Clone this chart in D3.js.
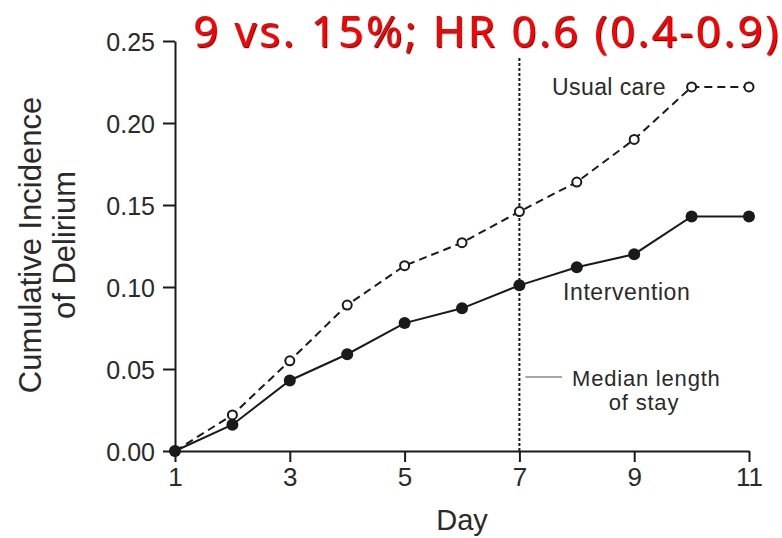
<!DOCTYPE html>
<html>
<head>
<meta charset="utf-8">
<script src="https://cdn.jsdelivr.net/npm/d3@7"></script>
<style>
  html, body { margin: 0; padding: 0; background: #fff; }
  svg { display: block; }
</style>
</head>
<body>
<svg id="chart" width="782" height="538"></svg>
<script>
// ---- Data ----
const days = [1, 2, 3, 4, 5, 6, 7, 8, 9, 10, 11];
const usualCare = [0, 0.022, 0.055, 0.089, 0.113, 0.127, 0.146, 0.164, 0.190, 0.222, 0.222];
const intervention = [0, 0.016, 0.043, 0.059, 0.078, 0.087, 0.101, 0.112, 0.120, 0.143, 0.143];
const xTicks = [1, 3, 5, 7, 9, 11];
const yTicks = [0, 0.05, 0.10, 0.15, 0.20, 0.25];
const medianStayDay = 7;
const medianLineTop = 0.24;
const titleText = "9 vs. 15%; HR 0.6 (0.4-0.9)";
const yTitleLines = ["Cumulative Incidence", "of Delirium"];
const xTitle = "Day";
const seriesLabels = ["Usual care", "Intervention"];
const medianLabelLines = ["Median length", "of stay"];

// ---- Layout ----
const svg = d3.select("#chart");
const font = "'Liberation Sans', Arial, Helvetica, sans-serif";
const ink = "#1a1a1a";
const textInk = "#2a2a2a";
const x = d3.scaleLinear().domain([1, 11]).range([175, 749]);
const y = d3.scaleLinear().domain([0, 0.25]).range([451, 41]);

const defs = svg.append("defs");
const f = defs.append("filter").attr("id", "shadow")
  .attr("x", "-5%").attr("y", "-20%").attr("width", "110%").attr("height", "140%");
f.append("feDropShadow").attr("dx", 1.2).attr("dy", 1.2).attr("stdDeviation", 0.3)
  .attr("flood-color", "#000").attr("flood-opacity", 0.85);

// Median length of stay vertical dotted line
svg.append("line")
  .attr("x1", x(medianStayDay)).attr("x2", x(medianStayDay))
  .attr("y1", y(0)).attr("y2", y(medianLineTop))
  .attr("stroke", ink).attr("stroke-width", 2)
  .attr("stroke-dasharray", "3,2");

// Axes
const yAxis = d3.axisLeft(y).tickValues(yTicks).tickFormat(d3.format(".2f"))
  .tickSize(12).tickSizeOuter(0).tickPadding(8);
const xAxis = d3.axisBottom(x).tickValues(xTicks).tickFormat(d3.format("d"))
  .tickSize(11).tickSizeOuter(0).tickPadding(6);

const gy = svg.append("g").attr("transform", `translate(${x(1)},0)`).call(yAxis);
const gx = svg.append("g").attr("transform", `translate(0,${y(0)})`).call(xAxis);
[gx, gy].forEach(g => {
  g.select(".domain").attr("stroke", ink).attr("stroke-width", 2);
  g.selectAll(".tick line").attr("stroke", ink).attr("stroke-width", 2);
  g.selectAll(".tick text").attr("fill", textInk).style("font-family", font);
});
gy.selectAll(".tick text").style("font-size", "25px").attr("dy", "0.36em");
gx.selectAll(".tick text").style("font-size", "26px");

// Lines
const line = d3.line().x((d, i) => x(days[i])).y(d => y(d));
svg.append("path").datum(usualCare)
  .attr("d", line).attr("fill", "none")
  .attr("stroke", ink).attr("stroke-width", 2)
  .attr("stroke-dasharray", "8,5");
svg.append("path").datum(intervention)
  .attr("d", line).attr("fill", "none")
  .attr("stroke", ink).attr("stroke-width", 2);

// Markers
svg.append("g").selectAll("circle").data(usualCare).join("circle")
  .attr("cx", (d, i) => x(days[i])).attr("cy", d => y(d))
  .attr("r", 4.5).attr("fill", "#fff").attr("stroke", ink).attr("stroke-width", 2);
svg.append("g").selectAll("circle").data(intervention).join("circle")
  .attr("cx", (d, i) => x(days[i])).attr("cy", d => y(d))
  .attr("r", 6).attr("fill", ink);

// Annotations
svg.append("text").attr("x", 666).attr("y", 95)
  .attr("text-anchor", "end").style("font-family", font).style("font-size", "23px")
  .style("letter-spacing", "0.4px")
  .attr("fill", textInk).text(seriesLabels[0]);
svg.append("text").attr("x", 563).attr("y", 300)
  .style("font-family", font).style("font-size", "23px")
  .style("letter-spacing", "0.6px")
  .attr("fill", textInk).text(seriesLabels[1]);

svg.append("line").attr("x1", x(medianStayDay) + 6).attr("x2", 562)
  .attr("y1", 377).attr("y2", 377)
  .attr("stroke", "#888").attr("stroke-width", 1.5);
svg.append("text").attr("x", 572).attr("y", 386)
  .style("font-family", font).style("font-size", "22px")
  .style("letter-spacing", "0.8px")
  .attr("fill", textInk).text(medianLabelLines[0]);
svg.append("text").attr("x", 644).attr("y", 410)
  .attr("text-anchor", "middle")
  .style("font-family", font).style("font-size", "22px")
  .style("letter-spacing", "0.8px")
  .attr("fill", textInk).text(medianLabelLines[1]);

// Axis titles
const yt = svg.append("text")
  .attr("transform", "translate(0,245) rotate(-90)")
  .attr("text-anchor", "middle")
  .style("font-family", font).style("font-size", "31px").attr("fill", textInk);
yt.append("tspan").attr("x", 0).attr("y", 41).text(yTitleLines[0]);
yt.append("tspan").attr("x", 0).attr("y", 75).text(yTitleLines[1]);

svg.append("text").attr("x", (x(1) + x(11)) / 2).attr("y", 530)
  .attr("text-anchor", "middle")
  .style("font-family", font).style("font-size", "29px").attr("fill", textInk)
  .text(xTitle);

// Title
const title = svg.append("text").attr("x", 193).attr("y", 47)
  .style("font-family", "'Noto Sans', 'Open Sans', sans-serif").style("font-size", "44px")
  .attr("fill", "#ff0000").attr("filter", "url(#shadow)")
  .text(titleText);
const w = title.node().getComputedTextLength();
const extra = (585 - w) / (titleText.length - 1);
title.style("letter-spacing", extra.toFixed(2) + "px");
</script>
</body>
</html>
